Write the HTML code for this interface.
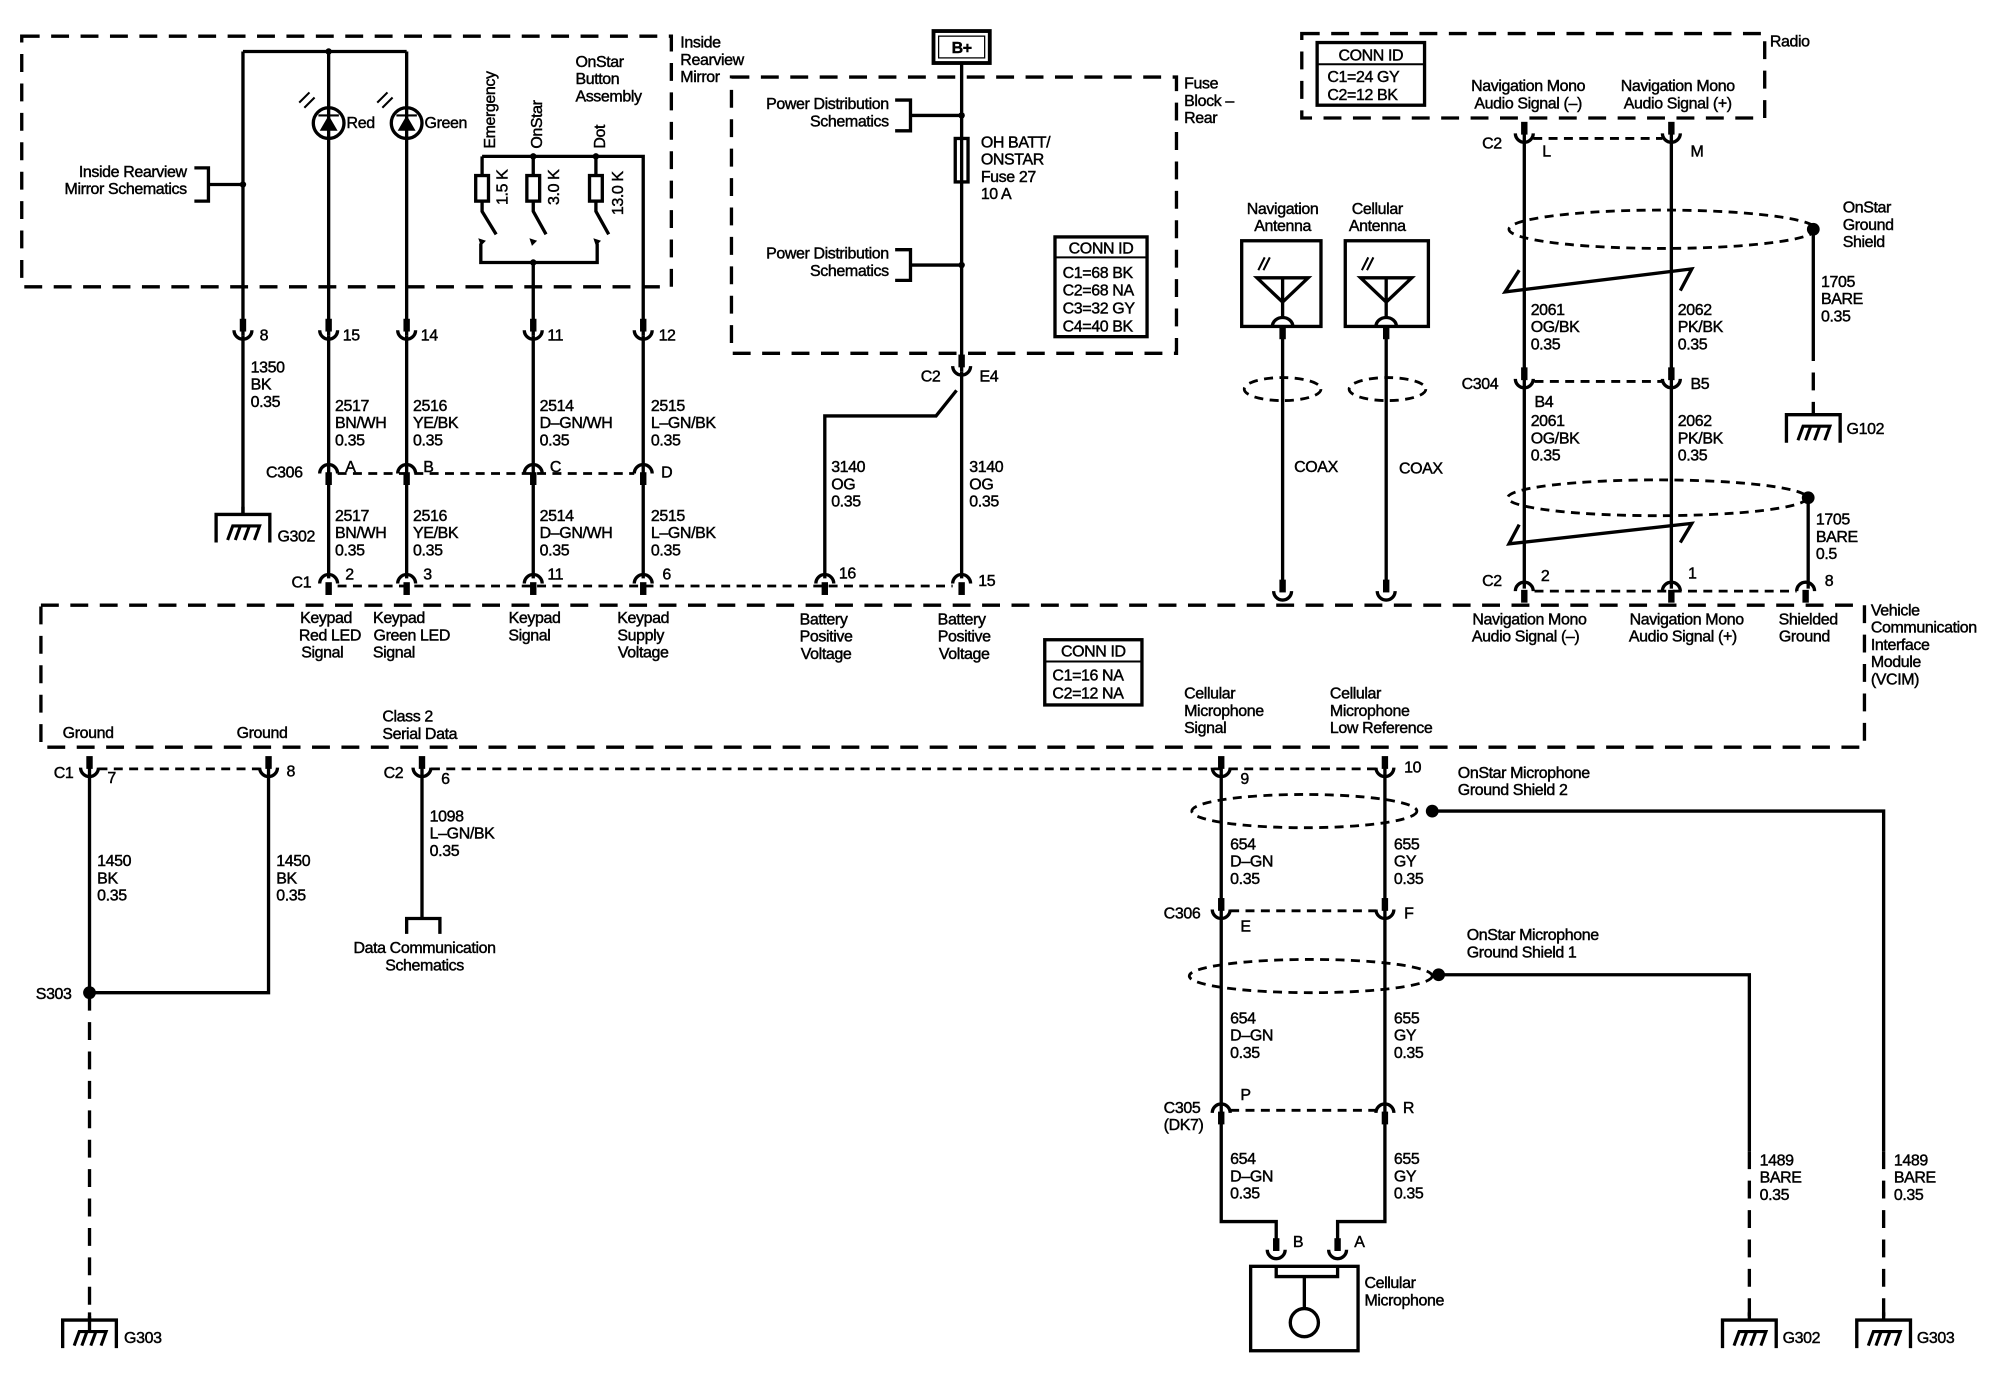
<!DOCTYPE html>
<html><head><meta charset="utf-8"><style>
html,body{margin:0;padding:0;background:#fff}
svg{display:block}
text{font-family:"Liberation Sans",Arial,sans-serif;font-size:12.5px;fill:#000;stroke:#000;stroke-width:0.35px;letter-spacing:-0.3px}
.w{stroke:#000;stroke-width:2.6;fill:none}
.t{stroke:#000;stroke-width:1.6;fill:none}
.d{stroke:#000;stroke-width:2.6;fill:none;stroke-dasharray:14 9}
.s{stroke:#000;stroke-width:2.2;fill:none;stroke-dasharray:7 5}
</style></head><body>
<svg width="2000" height="1392" viewBox="0 0 1564 1088" xmlns="http://www.w3.org/2000/svg">
<defs>
<g id="u"><rect x="-2.5" y="-13" width="5" height="10" fill="#000"/><path d="M-7 -4 A7 7 0 0 0 7 -4" stroke="#000" stroke-width="2.6" fill="none"/></g>
<g id="n"><rect x="-2.5" y="3" width="5" height="10" fill="#000"/><path d="M-7 4 A7 7 0 0 1 7 4" stroke="#000" stroke-width="2.6" fill="none"/></g>
<g id="g"><path d="M-21 22 V0 H21 V22 M0 0 V-6" stroke="#000" stroke-width="2.6" fill="none"/><path d="M-12 20 L-8 9 H13 L9 20 M-2 9 L-6 20 M5 9 L1 20" stroke="#000" stroke-width="2.4" fill="none"/></g>
</defs>
<rect width="1564" height="1088" fill="#fff"/>

<rect x="17" y="28" width="508" height="196" class="d"/>
<text x="532" y="37"><tspan x="532">Inside</tspan><tspan x="532" dy="13.5">Rearview</tspan><tspan x="532" dy="13.5">Mirror</tspan></text>
<path class="w" d="M190 40 H318 M190 40 V262 M257 40 V262 M318 40 V262"/>
<circle cx="257" cy="40" r="2.5"/>
<circle cx="257" cy="96" r="12" class="w"/><circle cx="318" cy="96" r="12" class="w"/>
<path d="M250 102 H264 L257 90 Z M311 102 H325 L318 90 Z" fill="#000"/><path class="t" d="M249 90 H265 M310 90 H326"/>
<path class="t" d="M234 80 L242 72 M238 84 L246 76 M295 80 L303 72 M299 84 L307 76"/>
<text x="271" y="100">Red</text><text x="332" y="100">Green</text>
<text x="146" y="138" text-anchor="end"><tspan x="146">Inside Rearview</tspan><tspan x="146" dy="13.5">Mirror Schematics</tspan></text>
<path class="w" d="M152 131 H163 V157 H152 M163 144 H190"/><circle cx="190" cy="144" r="2.5"/>
<text x="450" y="52"><tspan x="450">OnStar</tspan><tspan x="450" dy="13.5">Button</tspan><tspan x="450" dy="13.5">Assembly</tspan></text>
<text transform="translate(387,116) rotate(-90)">Emergency</text>
<text transform="translate(424,116) rotate(-90)">OnStar</text>
<text transform="translate(473,116) rotate(-90)">Dot</text>
<path class="w" d="M377 122 H503 V262 M377 122 V137 M417 122 V137 M466 122 V137"/>
<circle cx="417" cy="122" r="2.5"/><circle cx="466" cy="122" r="2.5"/>
<rect x="372" y="137" width="10" height="20" class="w"/><rect x="412" y="137" width="10" height="20" class="w"/><rect x="461" y="137" width="10" height="20" class="w"/>
<text transform="translate(397,160) rotate(-90)">1.5 K</text>
<text transform="translate(437,160) rotate(-90)">3.0 K</text>
<text transform="translate(487,168) rotate(-90)">13.0 K</text>
<path class="w" d="M377 157 V165 L388 183 M417 157 V165 L427 183 M466 157 V165 L476 183"/>
<path class="w" d="M376 190 V205 H467 V190 M417 205 V262"/>
<path d="M374 186 L380 188 L376 192Z M414 186 L420 188 L416 192Z M464 186 L470 188 L466 192Z" fill="#000"/>
<circle cx="417" cy="205" r="2.5"/>

<use href="#u" x="190" y="262"/><use href="#u" x="257" y="262"/><use href="#u" x="318" y="262"/><use href="#u" x="417" y="262"/><use href="#u" x="503" y="262"/>
<text x="203" y="266">8</text><text x="268" y="266">15</text><text x="329" y="266">14</text><text x="428" y="266">11</text><text x="515" y="266">12</text>
<path class="w" d="M190 262 V402 M257 262 V452 M318 262 V452 M417 262 V452 M503 262 V452"/>
<text x="196" y="291"><tspan x="196">1350</tspan><tspan x="196" dy="13.5">BK</tspan><tspan x="196" dy="13.5">0.35</tspan></text>
<use href="#g" x="190" y="402"/><text x="217" y="423">G302</text>
<text y="321"><tspan x="262">2517</tspan><tspan x="262" dy="13.5">BN/WH</tspan><tspan x="262" dy="13.5">0.35</tspan></text>
<text y="321"><tspan x="323">2516</tspan><tspan x="323" dy="13.5">YE/BK</tspan><tspan x="323" dy="13.5">0.35</tspan></text>
<text y="321"><tspan x="422">2514</tspan><tspan x="422" dy="13.5">D–GN/WH</tspan><tspan x="422" dy="13.5">0.35</tspan></text>
<text y="321"><tspan x="509">2515</tspan><tspan x="509" dy="13.5">L–GN/BK</tspan><tspan x="509" dy="13.5">0.35</tspan></text>
<path class="s" d="M264 370 H496"/>
<use href="#n" x="257" y="366"/><use href="#n" x="318" y="366"/><use href="#n" x="417" y="366"/><use href="#n" x="503" y="366"/>
<text x="208" y="373">C306</text><text x="270" y="369">A</text><text x="331" y="369">B</text><text x="430" y="369">C</text><text x="517" y="373">D</text>
<text y="407"><tspan x="262">2517</tspan><tspan x="262" dy="13.5">BN/WH</tspan><tspan x="262" dy="13.5">0.35</tspan></text>
<text y="407"><tspan x="323">2516</tspan><tspan x="323" dy="13.5">YE/BK</tspan><tspan x="323" dy="13.5">0.35</tspan></text>
<text y="407"><tspan x="422">2514</tspan><tspan x="422" dy="13.5">D–GN/WH</tspan><tspan x="422" dy="13.5">0.35</tspan></text>
<text y="407"><tspan x="509">2515</tspan><tspan x="509" dy="13.5">L–GN/BK</tspan><tspan x="509" dy="13.5">0.35</tspan></text>
<path class="s" d="M264 458 H745"/>
<use href="#n" x="257" y="452"/><use href="#n" x="318" y="452"/><use href="#n" x="417" y="452"/><use href="#n" x="503" y="452"/><use href="#n" x="645" y="452"/><use href="#n" x="752" y="452"/>
<text x="228" y="459">C1</text><text x="270" y="453">2</text><text x="331" y="453">3</text><text x="428" y="453">11</text><text x="518" y="453">6</text><text x="656" y="452">16</text><text x="765" y="458">15</text>

<rect x="730" y="24" width="44" height="25" fill="none" stroke="#000" stroke-width="3"/><rect x="734" y="28" width="36" height="17" fill="none" stroke="#000" stroke-width="1"/>
<text x="752" y="41" text-anchor="middle" font-weight="bold">B+</text>
<rect x="572" y="60" width="348" height="216" class="d"/>
<text x="926" y="69"><tspan x="926">Fuse</tspan><tspan x="926" dy="13.5">Block –</tspan><tspan x="926" dy="13.5">Rear</tspan></text>
<path class="w" d="M752 49 V290"/>
<rect x="747" y="108" width="10" height="34" fill="#fff" class="w"/>
<text y="115"><tspan x="767">OH BATT/</tspan><tspan x="767" dy="13.5">ONSTAR</tspan><tspan x="767" dy="13.5">Fuse 27</tspan><tspan x="767" dy="13.5">10 A</tspan></text>
<text text-anchor="end" y="85"><tspan x="695">Power Distribution</tspan><tspan x="695" dy="13.5">Schematics</tspan></text>
<path class="w" d="M700 78 H712 V102 H700 M712 90 H752"/><circle cx="752" cy="90" r="2.5"/>
<text text-anchor="end" y="202"><tspan x="695">Power Distribution</tspan><tspan x="695" dy="13.5">Schematics</tspan></text>
<path class="w" d="M700 195 H712 V219 H700 M712 207 H752"/><circle cx="752" cy="207" r="2.5"/>
<rect x="825" y="185" width="72" height="78" class="w"/><path class="t" d="M825 201 H897"/>
<text x="861" y="198" text-anchor="middle">CONN ID</text>
<text y="217"><tspan x="831">C1=68 BK</tspan><tspan x="831" dy="14">C2=68 NA</tspan><tspan x="831" dy="14">C3=32 GY</tspan><tspan x="831" dy="14">C4=40 BK</tspan></text>
<use href="#u" x="752" y="290"/>
<text x="720" y="298">C2</text><text x="766" y="298">E4</text>
<path class="w" d="M752 290 V452 M748 305 L732 325 H645 V452"/>
<text y="369"><tspan x="650">3140</tspan><tspan x="650" dy="13.5">OG</tspan><tspan x="650" dy="13.5">0.35</tspan></text>
<text y="369"><tspan x="758">3140</tspan><tspan x="758" dy="13.5">OG</tspan><tspan x="758" dy="13.5">0.35</tspan></text>

<text text-anchor="middle" y="167"><tspan x="1003">Navigation</tspan><tspan x="1003" dy="13.5">Antenna</tspan></text>
<text text-anchor="middle" y="167"><tspan x="1077">Cellular</tspan><tspan x="1077" dy="13.5">Antenna</tspan></text>
<rect x="971" y="188" width="62" height="67" class="w"/><rect x="1052" y="188" width="65" height="67" class="w"/>
<path class="w" d="M983 217 H1023 L1003 236 Z M1003 217 V248 M1064 217 H1104 L1084 236 Z M1084 217 V248"/>
<path class="w" d="M995 255 A8 7 0 0 1 1011 255 M1076 255 A8 7 0 0 1 1092 255"/>
<path class="t" d="M984 211 L989 201 M988 211 L993 201 M1065 211 L1070 201 M1069 211 L1074 201"/>
<path class="w" d="M1003 255 V460 M1084 255 V460"/>
<rect x="1000.5" y="255" width="5" height="10"/><rect x="1081.5" y="255" width="5" height="10"/>
<ellipse cx="1003" cy="304" rx="30" ry="9" class="s" stroke-width="2"/><ellipse cx="1085" cy="304" rx="30" ry="9" class="s" stroke-width="2"/>
<text x="1012" y="369">COAX</text><text x="1094" y="370">COAX</text>
<use href="#u" x="1003" y="466"/><use href="#u" x="1084" y="466"/>

<rect x="1018" y="26" width="362" height="66" class="d"/>
<text x="1384" y="36">Radio</text>
<rect x="1030" y="33" width="84" height="49" class="w"/><path class="t" d="M1030 50 H1114"/>
<text x="1072" y="47" text-anchor="middle">CONN ID</text>
<text y="64"><tspan x="1038">C1=24 GY</tspan><tspan x="1038" dy="14">C2=12 BK</tspan></text>
<text text-anchor="middle" y="71"><tspan x="1195">Navigation Mono</tspan><tspan x="1195" dy="13.5">Audio Signal (–)</tspan></text>
<text text-anchor="middle" y="71"><tspan x="1312">Navigation Mono</tspan><tspan x="1312" dy="13.5">Audio Signal (+)</tspan></text>
<path class="s" d="M1199 108 H1300"/>
<use href="#u" x="1192" y="108"/><use href="#u" x="1307" y="108"/>
<text x="1159" y="116">C2</text><text x="1206" y="122">L</text><text x="1322" y="122">M</text>
<path class="w" d="M1192 100 V460 M1307 100 V460"/>
<ellipse cx="1300" cy="179" rx="120" ry="15" class="s"/>
<circle cx="1418" cy="179" r="5"/>
<path class="w" d="M1418 179 V268"/><path class="d" d="M1418 268 V318"/>
<use href="#g" x="1418" y="324"/><text x="1444" y="339">G102</text>
<text y="166"><tspan x="1441">OnStar</tspan><tspan x="1441" dy="13.5">Ground</tspan><tspan x="1441" dy="13.5">Shield</tspan></text>
<text y="224"><tspan x="1424">1705</tspan><tspan x="1424" dy="13.5">BARE</tspan><tspan x="1424" dy="13.5">0.35</tspan></text>
<path class="w" d="M1188 211 L1177 228 L1323 210 L1314 227"/>
<text y="246"><tspan x="1197">2061</tspan><tspan x="1197" dy="13.5">OG/BK</tspan><tspan x="1197" dy="13.5">0.35</tspan></text>
<text y="246"><tspan x="1312">2062</tspan><tspan x="1312" dy="13.5">PK/BK</tspan><tspan x="1312" dy="13.5">0.35</tspan></text>
<path class="s" d="M1200 298 H1300"/>
<use href="#u" x="1192" y="300"/><use href="#u" x="1307" y="300"/>
<text x="1143" y="304">C304</text><text x="1322" y="304">B5</text><text x="1200" y="318">B4</text>
<text y="333"><tspan x="1197">2061</tspan><tspan x="1197" dy="13.5">OG/BK</tspan><tspan x="1197" dy="13.5">0.35</tspan></text>
<text y="333"><tspan x="1312">2062</tspan><tspan x="1312" dy="13.5">PK/BK</tspan><tspan x="1312" dy="13.5">0.35</tspan></text>
<ellipse cx="1296" cy="389" rx="117" ry="14" class="s"/>
<circle cx="1414" cy="389" r="5"/>
<path class="w" d="M1414 389 V460"/>
<text y="410"><tspan x="1420">1705</tspan><tspan x="1420" dy="13.5">BARE</tspan><tspan x="1420" dy="13.5">0.5</tspan></text>
<path class="w" d="M1188 410 L1180 425 L1323 409 L1314 424"/>
<path class="s" d="M1200 462 H1405"/>
<use href="#n" x="1192" y="458"/><use href="#n" x="1307" y="458"/><use href="#n" x="1412" y="458"/>
<text x="1159" y="458">C2</text><text x="1205" y="454">2</text><text x="1320" y="452">1</text><text x="1427" y="458">8</text>

<rect x="32" y="473" width="1426" height="111" class="d"/>
<text y="487" text-anchor="middle"><tspan x="255">Keypad</tspan><tspan x="258" dy="13.5">Red LED</tspan><tspan x="252" dy="13.5">Signal</tspan></text>
<text y="487" text-anchor="middle"><tspan x="312">Keypad</tspan><tspan x="322" dy="13.5">Green LED</tspan><tspan x="308" dy="13.5">Signal</tspan></text>
<text y="487" text-anchor="middle"><tspan x="418">Keypad</tspan><tspan x="414" dy="13.5">Signal</tspan></text>
<text y="487" text-anchor="middle"><tspan x="503">Keypad</tspan><tspan x="501" dy="13.5">Supply</tspan><tspan x="503" dy="13.5">Voltage</tspan></text>
<text y="488" text-anchor="middle"><tspan x="644">Battery</tspan><tspan x="646" dy="13.5">Positive</tspan><tspan x="646" dy="13.5">Voltage</tspan></text>
<text y="488" text-anchor="middle"><tspan x="752">Battery</tspan><tspan x="754" dy="13.5">Positive</tspan><tspan x="754" dy="13.5">Voltage</tspan></text>
<text y="488" text-anchor="middle"><tspan x="1196">Navigation Mono</tspan><tspan x="1193" dy="13.5">Audio Signal (–)</tspan></text>
<text y="488" text-anchor="middle"><tspan x="1319">Navigation Mono</tspan><tspan x="1316" dy="13.5">Audio Signal (+)</tspan></text>
<text y="488" text-anchor="middle"><tspan x="1414">Shielded</tspan><tspan x="1411" dy="13.5">Ground</tspan></text>
<text y="481"><tspan x="1463">Vehicle</tspan><tspan x="1463" dy="13.5">Communication</tspan><tspan x="1463" dy="13.5">Interface</tspan><tspan x="1463" dy="13.5">Module</tspan><tspan x="1463" dy="13.5">(VCIM)</tspan></text>
<rect x="817" y="500" width="76" height="51" class="w"/><path class="t" d="M817 517 H893"/>
<text x="855" y="513" text-anchor="middle">CONN ID</text>
<text y="532"><tspan x="823">C1=16 NA</tspan><tspan x="823" dy="14">C2=12 NA</tspan></text>
<text x="49" y="577">Ground</text><text x="185" y="577">Ground</text>
<text y="564"><tspan x="299">Class 2</tspan><tspan x="299" dy="13.5">Serial Data</tspan></text>
<text y="546"><tspan x="926">Cellular</tspan><tspan x="926" dy="13.5">Microphone</tspan><tspan x="926" dy="13.5">Signal</tspan></text>
<text y="546"><tspan x="1040">Cellular</tspan><tspan x="1040" dy="13.5">Microphone</tspan><tspan x="1040" dy="13.5">Low Reference</tspan></text>

<path class="s" d="M77 601 H203 M337 601 H1076"/>
<use href="#u" x="70" y="604"/><use href="#u" x="210" y="604"/><use href="#u" x="330" y="604"/><use href="#u" x="955" y="604"/><use href="#u" x="1083" y="604"/>
<text x="42" y="608">C1</text><text x="84" y="612">7</text><text x="224" y="607">8</text><text x="300" y="608">C2</text><text x="345" y="613">6</text><text x="970" y="613">9</text><text x="1098" y="604">10</text>
<path class="w" d="M70 600 V776 H210 V600 M330 600 V718"/>
<circle cx="70" cy="776" r="5"/><text x="28" y="781">S303</text>
<path class="d" d="M70 776 V1040"/>
<use href="#g" x="70" y="1032"/><text x="97" y="1050">G303</text>
<text y="677"><tspan x="76">1450</tspan><tspan x="76" dy="13.5">BK</tspan><tspan x="76" dy="13.5">0.35</tspan></text>
<text y="677"><tspan x="216">1450</tspan><tspan x="216" dy="13.5">BK</tspan><tspan x="216" dy="13.5">0.35</tspan></text>
<text y="642"><tspan x="336">1098</tspan><tspan x="336" dy="13.5">L–GN/BK</tspan><tspan x="336" dy="13.5">0.35</tspan></text>
<path class="w" d="M318 730 V718 H344 V730"/>
<text y="745" text-anchor="middle"><tspan x="332">Data Communication</tspan><tspan x="332" dy="13.5">Schematics</tspan></text>

<path class="w" d="M955 600 V955 H998 V975 M1083 600 V955 H1046 V975"/>
<ellipse cx="1020" cy="634" rx="88" ry="13" class="s"/>
<circle cx="1120" cy="634" r="5"/>
<path class="w" d="M1120 634 H1473 V900"/><path class="d" d="M1473 900 V1030"/>
<text y="608"><tspan x="1140">OnStar Microphone</tspan><tspan x="1140" dy="13.5">Ground Shield 2</tspan></text>
<text y="664"><tspan x="962">654</tspan><tspan x="962" dy="13.5">D–GN</tspan><tspan x="962" dy="13.5">0.35</tspan></text>
<text y="664"><tspan x="1090">655</tspan><tspan x="1090" dy="13.5">GY</tspan><tspan x="1090" dy="13.5">0.35</tspan></text>
<path class="s" d="M962 712 H1076"/>
<use href="#u" x="955" y="715"/><use href="#u" x="1083" y="715"/>
<text x="910" y="718">C306</text><text x="970" y="728">E</text><text x="1098" y="718">F</text>
<ellipse cx="1025" cy="763" rx="95" ry="13" class="s"/>
<circle cx="1125" cy="762" r="5"/>
<path class="w" d="M1125 762 H1368 V900"/><path class="d" d="M1368 900 V1030"/>
<text y="735"><tspan x="1147">OnStar Microphone</tspan><tspan x="1147" dy="13.5">Ground Shield 1</tspan></text>
<text y="800"><tspan x="962">654</tspan><tspan x="962" dy="13.5">D–GN</tspan><tspan x="962" dy="13.5">0.35</tspan></text>
<text y="800"><tspan x="1090">655</tspan><tspan x="1090" dy="13.5">GY</tspan><tspan x="1090" dy="13.5">0.35</tspan></text>
<path class="s" d="M962 868 H1076"/>
<use href="#n" x="955" y="866"/><use href="#n" x="1083" y="866"/>
<text y="870"><tspan x="910">C305</tspan><tspan x="910" dy="13.5">(DK7)</tspan></text>
<text x="970" y="860">P</text><text x="1097" y="870">R</text>
<text y="910"><tspan x="962">654</tspan><tspan x="962" dy="13.5">D–GN</tspan><tspan x="962" dy="13.5">0.35</tspan></text>
<text y="910"><tspan x="1090">655</tspan><tspan x="1090" dy="13.5">GY</tspan><tspan x="1090" dy="13.5">0.35</tspan></text>
<use href="#u" x="998" y="981"/><use href="#u" x="1046" y="981"/>
<text x="1011" y="975">B</text><text x="1059" y="975">A</text>
<rect x="978" y="990" width="84" height="66" class="w"/>
<path class="w" d="M998 990 V998 H1046 V990 M1020 998 V1023"/>
<circle cx="1020" cy="1034" r="11" class="w"/>
<text y="1007"><tspan x="1067">Cellular</tspan><tspan x="1067" dy="13.5">Microphone</tspan></text>
<text y="911"><tspan x="1376">1489</tspan><tspan x="1376" dy="13.5">BARE</tspan><tspan x="1376" dy="13.5">0.35</tspan></text>
<text y="911"><tspan x="1481">1489</tspan><tspan x="1481" dy="13.5">BARE</tspan><tspan x="1481" dy="13.5">0.35</tspan></text>
<use href="#g" x="1368" y="1032"/><text x="1394" y="1050">G302</text>
<use href="#g" x="1473" y="1032"/><text x="1499" y="1050">G303</text>
</svg>
</body></html>
